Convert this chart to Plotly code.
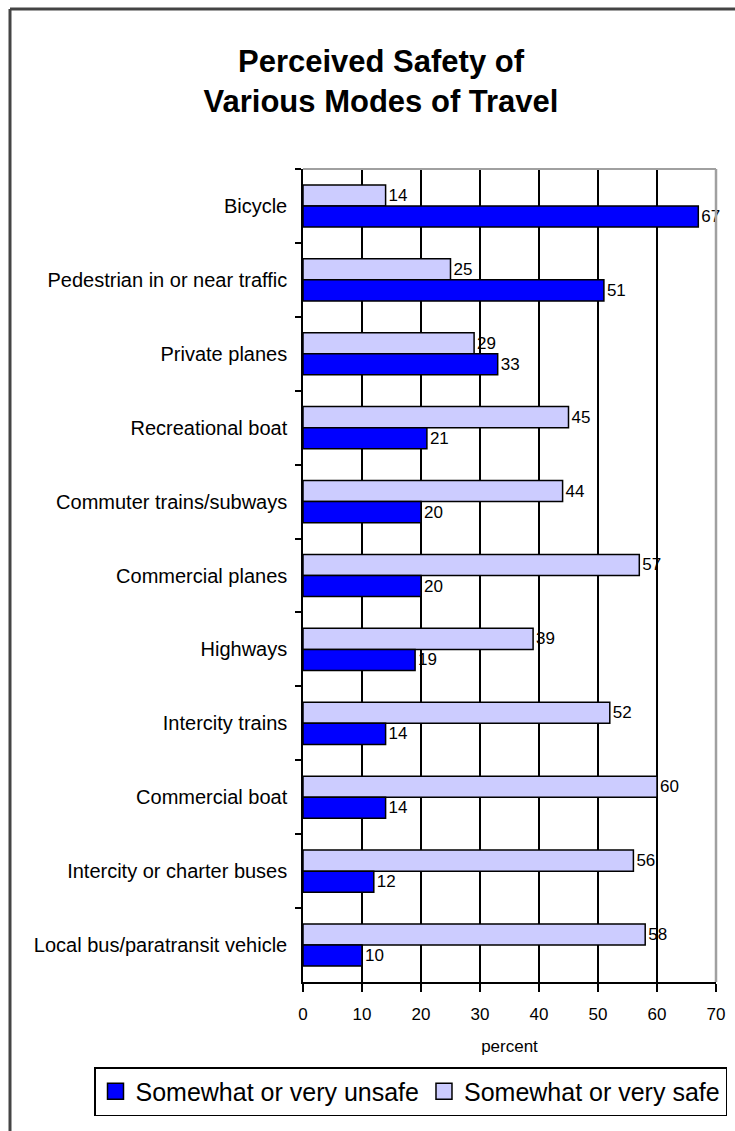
import plotly.graph_objects as go

categories = [
    "Bicycle",
    "Pedestrian in or near traffic",
    "Private planes",
    "Recreational boat",
    "Commuter trains/subways",
    "Commercial planes",
    "Highways",
    "Intercity trains",
    "Commercial boat",
    "Intercity or charter buses",
    "Local bus/paratransit vehicle",
]
unsafe = [67, 51, 33, 21, 20, 20, 19, 14, 14, 12, 10]
safe = [14, 25, 29, 45, 44, 57, 39, 52, 60, 56, 58]
x_ticks = [0, 10, 20, 30, 40, 50, 60, 70]

FONT = "Liberation Sans, Arial, sans-serif"
W, H = 735, 1131
L, R, T, B = 303, 716, 169, 982
SAFE_COLOR = "#CCCCFF"
UNSAFE_COLOR = "#0000FF"


def px_x(p):
    return (p - L) / (R - L)


def px_y(p):
    return (B - p) / (B - T)


fig = go.Figure()
fig.add_trace(go.Bar(
    y=categories, x=safe, orientation="h", name="Somewhat or very safe",
    marker=dict(color=SAFE_COLOR, line=dict(color="#000000", width=1.5)),
    text=[str(v) for v in safe], textposition="outside", constraintext="none",
    textfont=dict(family=FONT, size=17, color="#000000"), cliponaxis=False,
    showlegend=False,
))
fig.add_trace(go.Bar(
    y=categories, x=unsafe, orientation="h", name="Somewhat or very unsafe",
    marker=dict(color=UNSAFE_COLOR, line=dict(color="#000000", width=1.5)),
    text=[str(v) for v in unsafe], textposition="outside", constraintext="none",
    textfont=dict(family=FONT, size=17, color="#000000"), cliponaxis=False,
    showlegend=False,
))
# legend entries (larger square swatches)
for name, color in [("Somewhat or very unsafe", UNSAFE_COLOR), ("Somewhat or very safe", SAFE_COLOR)]:
    fig.add_trace(go.Scatter(
        x=[None], y=[None], mode="markers", name=name,
        marker=dict(symbol="square", size=16, color=color, line=dict(color="#000000", width=1.5)),
        showlegend=True,
    ))

fig.update_layout(
    width=W, height=H,
    margin=dict(l=L, r=W - R, t=T, b=H - B, pad=0, autoexpand=False),
    paper_bgcolor="white", plot_bgcolor="white",
    barmode="group", bargap=0.43, bargroupgap=0,
    font=dict(family=FONT, color="#000000"),
    title=dict(
        text="Perceived Safety of<br>Various Modes of Travel",
        x=381 / W, xanchor="center", xref="container",
        y=1 - 72 / H, yanchor="top", yref="container",
        font=dict(family=FONT, size=31, color="#000000", weight="bold"),
    ),
    xaxis=dict(
        range=[0, 70], tickvals=x_ticks, ticktext=[str(v) for v in x_ticks],
        showgrid=True, gridcolor="#000000", gridwidth=1.5,
        zeroline=False, showline=True, linecolor="#000000", linewidth=1.5,
        ticks="outside", ticklen=8, tickcolor="#000000", tickwidth=1.5,
        tickfont=dict(family=FONT, size=17), ticklabelstandoff=8,
        title=dict(text="percent", font=dict(family=FONT, size=17), standoff=17),
        automargin=False, fixedrange=True,
    ),
    yaxis=dict(
        autorange="reversed", showgrid=False, zeroline=False,
        showline=True, linecolor="#000000", linewidth=1.5,
        ticks="outside", tickson="boundaries", ticklen=6, tickcolor="#000000", tickwidth=1.5,
        tickfont=dict(family=FONT, size=20), ticklabelstandoff=10,
        automargin=False, fixedrange=True,
    ),
    legend=dict(
        orientation="h", x=px_x(94), xanchor="left", y=px_y(1067), yanchor="top",
        traceorder="normal", bordercolor="#000000", borderwidth=1.5,
        bgcolor="white", font=dict(family=FONT, size=25),
    ),
    showlegend=True,
)

shapes = [
    # outer frame (left and top edges visible)
    dict(type="line", xref="paper", yref="paper",
         x0=px_x(10), x1=px_x(10), y0=px_y(9), y1=px_y(H + 5),
         line=dict(color="#444444", width=3), layer="above"),
    dict(type="line", xref="paper", yref="paper",
         x0=px_x(10), x1=px_x(W + 5), y0=px_y(9), y1=px_y(9),
         line=dict(color="#444444", width=3), layer="above"),
    # top and right plot border (gray)
    dict(type="line", xref="paper", yref="paper", x0=0, x1=1, y0=1, y1=1,
         line=dict(color="#A0A0A0", width=2), layer="above"),
    dict(type="line", xref="paper", yref="paper", x0=1, x1=1, y0=0, y1=1,
         line=dict(color="#A0A0A0", width=2.5), layer="above"),
]
fig.update_layout(shapes=shapes)

fig.write_html("out.html")
